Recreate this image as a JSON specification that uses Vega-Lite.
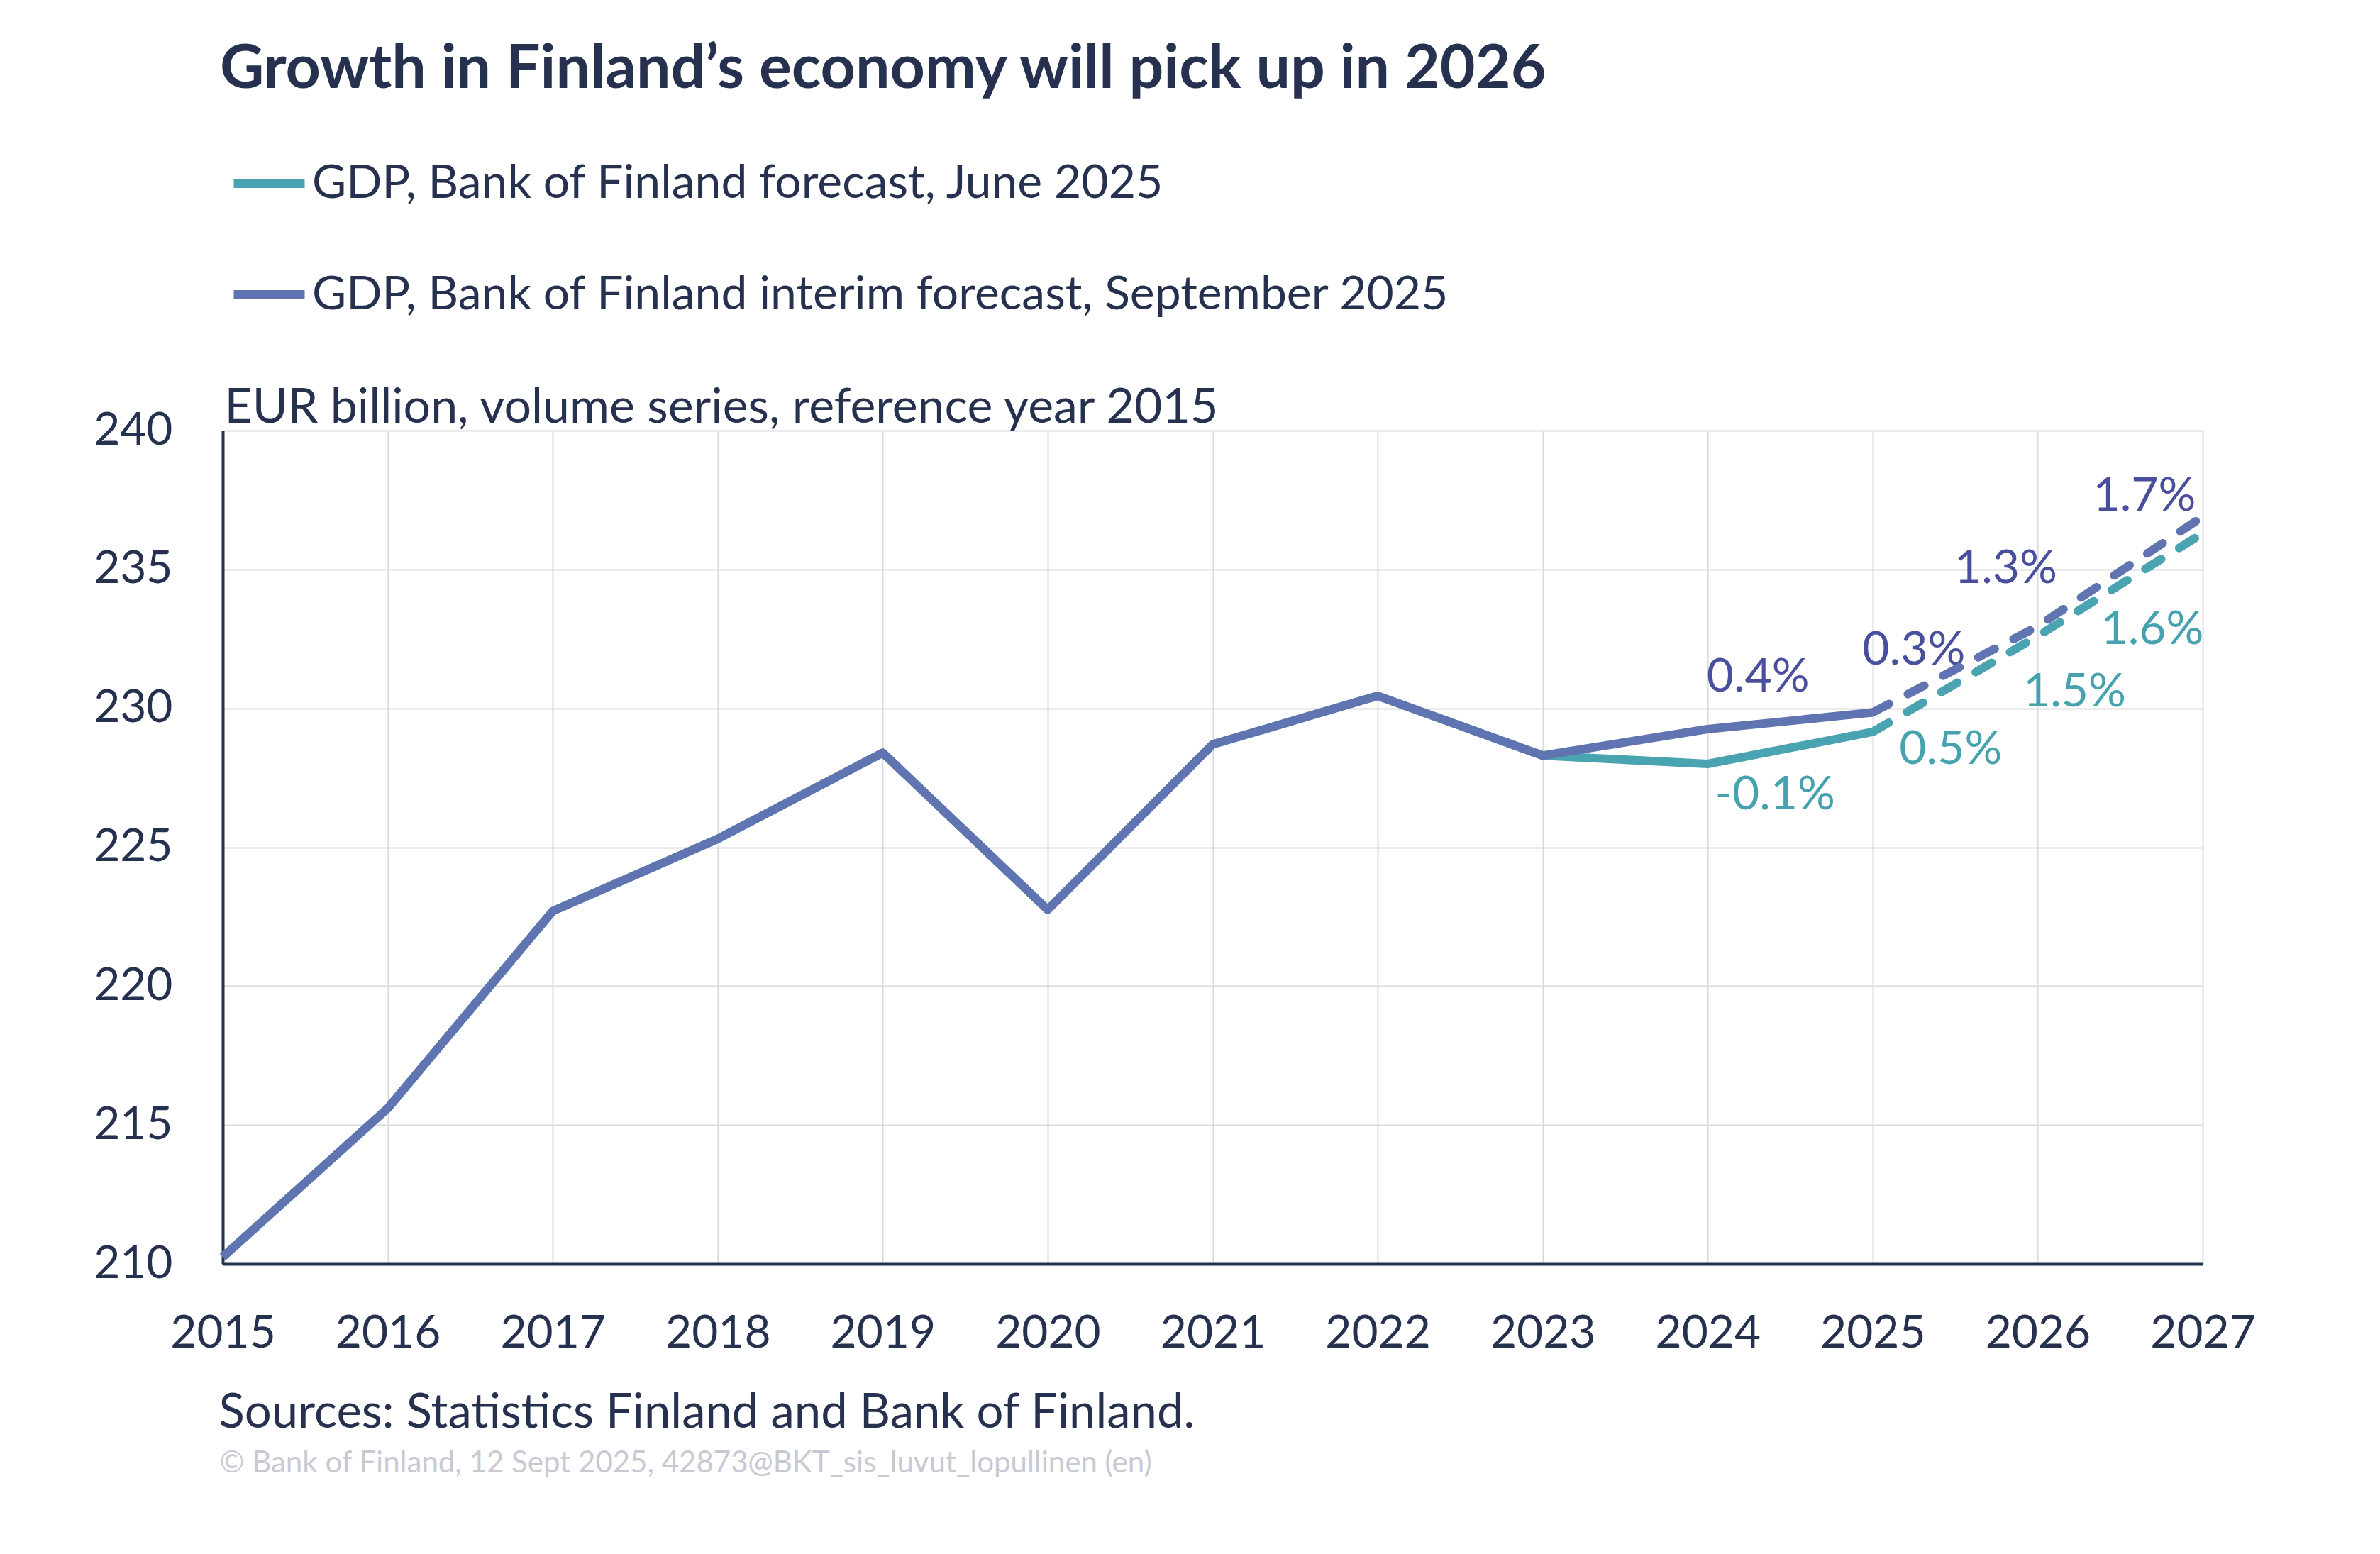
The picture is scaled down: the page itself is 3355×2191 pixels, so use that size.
{
  "$schema": "https://vega.github.io/schema/vega-lite/v6.json",
  "width": 2791,
  "height": 1175,
  "autosize": {"type": "none"},
  "padding": {"left": 314, "top": 607, "right": 250, "bottom": 409},
  "background": "white",
  "title": {
    "text": "Growth in Finland’s economy will pick up in 2026",
    "anchor": "start",
    "frame": "group",
    "orient": "top",
    "offset": 60,
    "dx": -4,
    "font": "Lato",
    "fontSize": 86,
    "fontWeight": "bold",
    "color": "#26314f"
  },
  "config": {
    "font": "Lato",
    "view": {"stroke": null},
    "axis": {
      "labelFont": "Lato",
      "labelFontSize": 64,
      "labelColor": "#26314f",
      "titleFont": "Lato",
      "titleFontWeight": "normal",
      "titleColor": "#26314f",
      "ticks": false,
      "gridColor": "#d9d9e0",
      "gridWidth": 2,
      "domainColor": "#26314f",
      "domainWidth": 4
    },
    "legend": {
      "labelFont": "Lato",
      "labelFontSize": 66,
      "labelColor": "#26314f",
      "labelLimit": 3000,
      "symbolType": "stroke",
      "symbolSize": 10000,
      "symbolStrokeWidth": 13,
      "rowPadding": 67,
      "labelOffset": 4,
      "padding": 0
    }
  },
  "datasets": {
    "gdp": [
      {"year": 2015, "series": "GDP, Bank of Finland forecast, June 2025", "segment": "2015–2025", "value": 210.25},
      {"year": 2016, "series": "GDP, Bank of Finland forecast, June 2025", "segment": "2015–2025", "value": 215.6},
      {"year": 2017, "series": "GDP, Bank of Finland forecast, June 2025", "segment": "2015–2025", "value": 222.7},
      {"year": 2018, "series": "GDP, Bank of Finland forecast, June 2025", "segment": "2015–2025", "value": 225.3},
      {"year": 2019, "series": "GDP, Bank of Finland forecast, June 2025", "segment": "2015–2025", "value": 228.4},
      {"year": 2020, "series": "GDP, Bank of Finland forecast, June 2025", "segment": "2015–2025", "value": 222.75},
      {"year": 2021, "series": "GDP, Bank of Finland forecast, June 2025", "segment": "2015–2025", "value": 228.7},
      {"year": 2022, "series": "GDP, Bank of Finland forecast, June 2025", "segment": "2015–2025", "value": 230.45},
      {"year": 2023, "series": "GDP, Bank of Finland forecast, June 2025", "segment": "2015–2025", "value": 228.3},
      {"year": 2024, "series": "GDP, Bank of Finland forecast, June 2025", "segment": "2015–2025", "value": 228.0},
      {"year": 2025, "series": "GDP, Bank of Finland forecast, June 2025", "segment": "2015–2025", "value": 229.15},
      {"year": 2025, "series": "GDP, Bank of Finland forecast, June 2025", "segment": "2025–2027", "value": 229.15},
      {"year": 2026, "series": "GDP, Bank of Finland forecast, June 2025", "segment": "2025–2027", "value": 232.6},
      {"year": 2027, "series": "GDP, Bank of Finland forecast, June 2025", "segment": "2025–2027", "value": 236.3},
      {"year": 2015, "series": "GDP, Bank of Finland interim forecast, September 2025", "segment": "2015–2025", "value": 210.25},
      {"year": 2016, "series": "GDP, Bank of Finland interim forecast, September 2025", "segment": "2015–2025", "value": 215.6},
      {"year": 2017, "series": "GDP, Bank of Finland interim forecast, September 2025", "segment": "2015–2025", "value": 222.7},
      {"year": 2018, "series": "GDP, Bank of Finland interim forecast, September 2025", "segment": "2015–2025", "value": 225.3},
      {"year": 2019, "series": "GDP, Bank of Finland interim forecast, September 2025", "segment": "2015–2025", "value": 228.4},
      {"year": 2020, "series": "GDP, Bank of Finland interim forecast, September 2025", "segment": "2015–2025", "value": 222.75},
      {"year": 2021, "series": "GDP, Bank of Finland interim forecast, September 2025", "segment": "2015–2025", "value": 228.7},
      {"year": 2022, "series": "GDP, Bank of Finland interim forecast, September 2025", "segment": "2015–2025", "value": 230.45},
      {"year": 2023, "series": "GDP, Bank of Finland interim forecast, September 2025", "segment": "2015–2025", "value": 228.3},
      {"year": 2024, "series": "GDP, Bank of Finland interim forecast, September 2025", "segment": "2015–2025", "value": 229.25},
      {"year": 2025, "series": "GDP, Bank of Finland interim forecast, September 2025", "segment": "2015–2025", "value": 229.85},
      {"year": 2025, "series": "GDP, Bank of Finland interim forecast, September 2025", "segment": "2025–2027", "value": 229.85},
      {"year": 2026, "series": "GDP, Bank of Finland interim forecast, September 2025", "segment": "2025–2027", "value": 232.95},
      {"year": 2027, "series": "GDP, Bank of Finland interim forecast, September 2025", "segment": "2025–2027", "value": 236.9}
    ],
    "growth": [
      {"year": 2024, "series": "June", "value": 228.0, "label": "-0.1%"},
      {"year": 2025, "series": "June", "value": 229.15, "label": "0.5%"},
      {"year": 2026, "series": "June", "value": 232.6, "label": "1.5%"},
      {"year": 2027, "series": "June", "value": 236.3, "label": "1.6%"},
      {"year": 2024, "series": "September", "value": 229.25, "label": "0.4%"},
      {"year": 2025, "series": "September", "value": 229.85, "label": "0.3%"},
      {"year": 2026, "series": "September", "value": 232.95, "label": "1.3%"},
      {"year": 2027, "series": "September", "value": 236.9, "label": "1.7%"}
    ]
  },
  "encoding": {
    "x": {
      "field": "year",
      "type": "quantitative",
      "scale": {"domain": [2015, 2027], "nice": false, "zero": false},
      "axis": {
        "values": [2015, 2016, 2017, 2018, 2019, 2020, 2021, 2022, 2023, 2024, 2025, 2026, 2027],
        "format": "d",
        "labelPadding": 66,
        "labelFlush": false,
        "title": "Sources: Statistics Finland and Bank of Finland.",
        "titleFontSize": 67,
        "titleAlign": "left",
        "titleAnchor": "start",
        "titleBaseline": "alphabetic",
        "titleX": -6,
        "titleY": 230
      }
    },
    "y": {
      "field": "value",
      "type": "quantitative",
      "scale": {"domain": [210, 240], "nice": false, "zero": false},
      "axis": {
        "values": [210, 215, 220, 225, 230, 235, 240],
        "labelPadding": 71,
        "labelFlush": false,
        "title": "EUR billion, volume series, reference year 2015",
        "titleFontSize": 68,
        "titleAngle": 0,
        "titleAlign": "left",
        "titleBaseline": "alphabetic",
        "titleX": 2,
        "titleY": -12
      }
    }
  },
  "resolve": {"axis": {"y": "independent"}},
  "layer": [
    {
      "layer": [
        {
          "data": {"name": "gdp"},
          "transform": [{"filter": "datum.segment === '2015–2025'"}],
          "mark": {"type": "line", "strokeWidth": 12, "strokeJoin": "round"},
          "encoding": {
            "color": {
              "field": "series",
              "type": "nominal",
              "scale": {
                "domain": ["GDP, Bank of Finland forecast, June 2025", "GDP, Bank of Finland interim forecast, September 2025"],
                "range": ["#4aa3b0", "#5f74b1"]
              },
              "legend": {
                "orient": "none",
                "direction": "vertical",
                "title": null,
                "legendX": 9,
                "legendY": -405
              }
            },
            "order": {"field": "year", "type": "quantitative"}
          }
        },
        {
          "data": {"name": "growth"},
          "transform": [{"filter": "datum.label === '0.4%'"}],
          "mark": {"type": "text", "fontSize": 66, "align": "center", "baseline": "alphabetic", "dx": 71, "dy": -53, "color": "#4a4f9d"},
          "encoding": {"text": {"field": "label"}}
        },
        {
          "data": {"name": "growth"},
          "transform": [{"filter": "datum.label === '0.3%'"}],
          "mark": {"type": "text", "fontSize": 66, "align": "center", "baseline": "alphabetic", "dx": 58, "dy": -68, "color": "#4a4f9d"},
          "encoding": {"text": {"field": "label"}}
        },
        {
          "data": {"name": "growth"},
          "transform": [{"filter": "datum.label === '1.3%'"}],
          "mark": {"type": "text", "fontSize": 66, "align": "center", "baseline": "alphabetic", "dx": -45, "dy": -61, "color": "#4a4f9d"},
          "encoding": {"text": {"field": "label"}}
        },
        {
          "data": {"name": "growth"},
          "transform": [{"filter": "datum.label === '1.7%'"}],
          "mark": {"type": "text", "fontSize": 66, "align": "center", "baseline": "alphabetic", "dx": -82, "dy": -8, "color": "#4a4f9d"},
          "encoding": {"text": {"field": "label"}}
        },
        {
          "data": {"name": "growth"},
          "transform": [{"filter": "datum.label === '-0.1%'"}],
          "mark": {"type": "text", "fontSize": 66, "align": "center", "baseline": "alphabetic", "dx": 95, "dy": 64, "color": "#46a2ae"},
          "encoding": {"text": {"field": "label"}}
        },
        {
          "data": {"name": "growth"},
          "transform": [{"filter": "datum.label === '0.5%'"}],
          "mark": {"type": "text", "fontSize": 66, "align": "center", "baseline": "alphabetic", "dx": 110, "dy": 45, "color": "#46a2ae"},
          "encoding": {"text": {"field": "label"}}
        },
        {
          "data": {"name": "growth"},
          "transform": [{"filter": "datum.label === '1.5%'"}],
          "mark": {"type": "text", "fontSize": 66, "align": "center", "baseline": "alphabetic", "dx": 52, "dy": 99, "color": "#46a2ae"},
          "encoding": {"text": {"field": "label"}}
        },
        {
          "data": {"name": "growth"},
          "transform": [{"filter": "datum.label === '1.6%'"}],
          "mark": {"type": "text", "fontSize": 66, "align": "center", "baseline": "alphabetic", "dx": -71, "dy": 156, "color": "#46a2ae"},
          "encoding": {"text": {"field": "label"}}
        }
      ]
    },
    {
      "data": {"name": "gdp"},
      "transform": [{"filter": "datum.segment === '2025–2027'"}],
      "mark": {"type": "line", "strokeWidth": 12, "strokeDash": [26, 30], "strokeCap": "round"},
      "encoding": {
        "y": {
          "field": "value",
          "type": "quantitative",
          "scale": {"domain": [210, 240], "nice": false, "zero": false},
          "axis": {
            "orient": "right",
            "labels": false,
            "domain": false,
            "grid": false,
            "title": "© Bank of Finland, 12 Sept 2025, 42873@BKT_sis_luvut_lopullinen (en)",
            "titleFontSize": 42,
            "titleColor": "#c8c9d2",
            "titleAngle": 0,
            "titleAlign": "left",
            "titleBaseline": "alphabetic",
            "titleX": -2796,
            "titleY": 1468
          }
        },
        "color": {
          "field": "series",
          "type": "nominal",
          "scale": {
            "domain": ["GDP, Bank of Finland forecast, June 2025", "GDP, Bank of Finland interim forecast, September 2025"],
            "range": ["#4aa3b0", "#5f74b1"]
          },
          "legend": null
        },
        "order": {"field": "year", "type": "quantitative"}
      }
    }
  ]
}
